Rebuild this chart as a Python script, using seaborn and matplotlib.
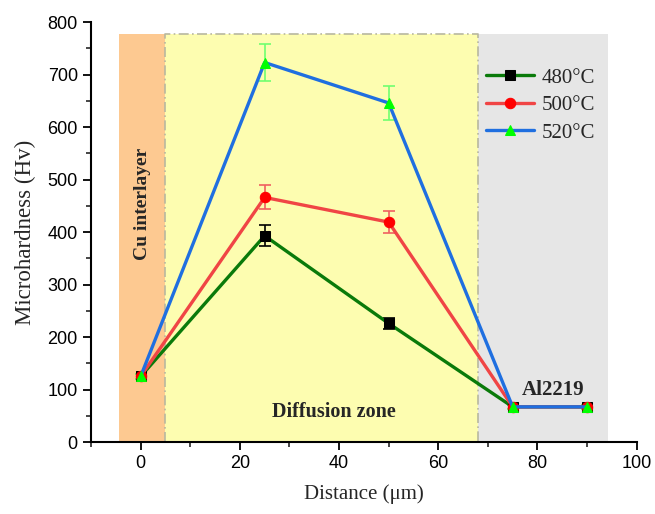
import numpy as np
import pandas as pd
import matplotlib
matplotlib.use("Agg")
import matplotlib.pyplot as plt
import seaborn as sns
from matplotlib.ticker import MultipleLocator

distance = [0, 25, 50, 75, 90]
h480 = [125, 393, 226, 67, 67]
h500 = [125, 466, 419, 67, 67]
h520 = [125, 723, 646, 67, 67]
err480 = [5, 20, 10, 4, 4]
err500 = [5, 23, 21, 4, 4]
err520 = [5, 35, 33, 4, 4]
labels = ["480°C", "500°C", "520°C"]

sns.set_theme(style="ticks")
plt.rcParams['font.family'] = ['Liberation Sans', 'DejaVu Sans']

fig = plt.figure(figsize=(6.55, 5.14), dpi=100)
ax = fig.add_axes([0.139, 0.14, 0.833, 0.817])

# zones
ax.fill_between([-4.4, 5], 0, 777, color="#fdc991", lw=0, zorder=0)
ax.fill_between([5, 68], 0, 777, color="#fdfdb0", lw=0, zorder=0)
ax.fill_between([68, 94.2], 0, 777, color="#e6e6e6", lw=0, zorder=0)
ax.plot([5, 5, 68, 68, 5], [0, 777, 777, 0, 0], color="#b8b8a0", lw=1.2,
        ls=(0, (6, 2, 1, 2)), zorder=1)

series = [
    (h480, err480, labels[0], "#0a7a0a", "s", "black", "black"),
    (h500, err500, labels[1], "#f04545", "o", "red", "#f06060"),
    (h520, err520, labels[2], "#1f6fe0", "^", "#00ff00", "#70ff70"),
]
for ys, es, lab, lc, mk, mc, ec in series:
    df = pd.DataFrame({"Distance": distance, "H": ys})
    ax.errorbar(distance, ys, yerr=es, fmt="none", ecolor=ec, elinewidth=1.2,
                capsize=4, capthick=1.2, zorder=2)
    sns.lineplot(data=df, x="Distance", y="H", ax=ax, color=lc, lw=2.4,
                 marker=mk, markersize=7.5, markerfacecolor=mc,
                 markeredgecolor=mc, label=lab, zorder=3)

ax.set_xlim(-10, 100)
ax.set_ylim(0, 800)
ax.xaxis.set_major_locator(MultipleLocator(20))
ax.xaxis.set_minor_locator(MultipleLocator(10))
ax.yaxis.set_major_locator(MultipleLocator(100))
ax.yaxis.set_minor_locator(MultipleLocator(50))
sns.despine(ax=ax)
for s in ["left", "bottom"]:
    ax.spines[s].set_linewidth(1.5)
    ax.spines[s].set_color("black")
ax.tick_params(which="major", direction="out", length=6, width=1.3,
               labelsize=13, colors="black", left=True, bottom=True)
ax.tick_params(which="minor", direction="out", length=3.5, width=1.2,
               left=True, bottom=True)

serif = ['Liberation Serif', 'DejaVu Serif']
ax.set_xlabel("Distance (μm)", family=serif, fontsize=15, labelpad=9)
ax.set_ylabel("Microhardness (Hv)", family=serif, fontsize=16.5, labelpad=8)

ax.text(0.4, 453, "Cu interlayer", rotation=90, family=serif, fontweight="bold",
        fontsize=14, ha="center", va="center")
ax.text(39, 57, "Diffusion zone", family=serif, fontweight="bold",
        fontsize=14.5, ha="center", va="center")
ax.text(83.2, 100, "Al2219", family=serif, fontweight="bold",
        fontsize=15, ha="center", va="center")

leg = ax.legend(loc="upper left", bbox_to_anchor=(0.69, 0.935), frameon=False,
                prop={'family': serif, 'size': 15}, handlelength=2.3,
                handletextpad=0.35, labelspacing=0.38)

fig.savefig("out.png", dpi=100)
